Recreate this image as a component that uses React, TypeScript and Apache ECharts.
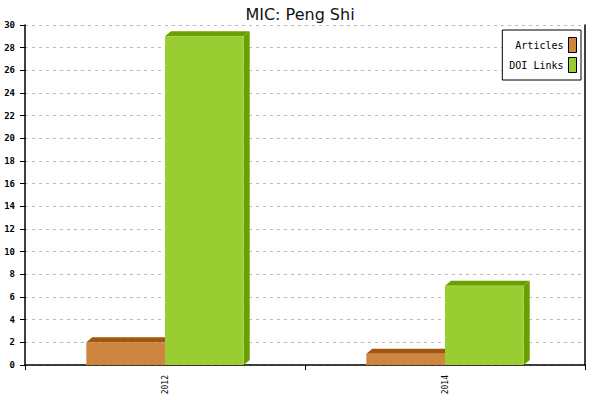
import React, { useEffect, useRef } from 'react';
import * as echarts from 'echarts';

const years = ['2012', '2014'];
const articles = [2, 1];
const doiLinks = [29, 7];
const yTicks = { min: 0, max: 30, interval: 2 };

const MONO = '"DejaVu Sans Mono", monospace';

// draws a flat bar with a top and a right-hand face for the 3D look
function make3dBar(offsetSide: number, front: string, dark: string) {
  return (params: any, api: any) => {
    const cat = api.value(0);
    const val = api.value(1);
    const top = api.coord([cat, val]);
    const base = api.coord([cat, 0]);
    const w = api.size([1, 0])[0] * 0.281;
    const x0 = top[0] + offsetSide * w;
    const x1 = x0 + w;
    const yT = top[1];
    const yB = base[1];
    const dx = 6;
    const dy = 5;
    return {
      type: 'group',
      children: [
        {
          type: 'polygon',
          shape: { points: [[x1, yT], [x1 + dx, yT - dy], [x1 + dx, yB - dy], [x1, yB]] },
          style: { fill: dark },
        },
        {
          type: 'polygon',
          shape: { points: [[x0, yT], [x0 + dx, yT - dy], [x1 + dx, yT - dy], [x1, yT]] },
          style: { fill: dark },
        },
        {
          type: 'rect',
          shape: { x: x0, y: yT, width: w, height: yB - yT },
          style: { fill: front },
        },
      ],
    };
  };
}

const App: React.FC = () => {
  const ref = useRef<HTMLDivElement>(null);

  useEffect(() => {
    if (!ref.current) return;
    const chart = echarts.init(ref.current, undefined, { renderer: 'svg' });

    chart.setOption({
      animation: false,
      backgroundColor: '#fff',
      title: {
        text: 'MIC: Peng Shi',
        left: 'center',
        top: 1,
        textStyle: { fontFamily: '"DejaVu Sans", sans-serif', fontSize: 16, fontWeight: 'normal', color: '#111' },
      },
      legend: {
        orient: 'vertical',
        right: 19,
        top: 30,
        align: 'right',
        backgroundColor: '#fff',
        borderColor: '#000',
        borderWidth: 1,
        padding: [7, 4, 7, 7],
        itemWidth: 8,
        itemHeight: 15,
        itemGap: 4,
        textStyle: { fontFamily: MONO, fontSize: 10, color: '#000', padding: [0, 0, 0, 0] },
        data: [
          { name: 'Articles', icon: 'rect', itemStyle: { color: '#CD853F', borderColor: '#000', borderWidth: 1 } },
          { name: 'DOI Links', icon: 'rect', itemStyle: { color: '#9ACD32', borderColor: '#000', borderWidth: 1 } },
        ],
      },
      grid: { left: 25, right: 15, top: 25, bottom: 35 },
      xAxis: {
        type: 'category',
        data: years,
        axisLine: { lineStyle: { color: '#000', width: 1.5 } },
        axisTick: { show: true, length: 5, lineStyle: { color: '#000' } },
        axisLabel: { rotate: 90, margin: 10, fontFamily: MONO, fontSize: 8, color: '#000' },
        splitLine: { show: false },
      },
      yAxis: [
        {
          type: 'value',
          position: 'left',
          ...yTicks,
          axisLine: { show: true, lineStyle: { color: '#000', width: 1.5 } },
          axisTick: { show: true, length: 5, lineStyle: { color: '#000' } },
          axisLabel: { margin: 10, fontFamily: MONO, fontSize: 9, fontWeight: 'bold', color: '#000' },
          splitLine: { show: true, lineStyle: { color: '#bbb', type: [3, 4] } },
        },
        {
          type: 'value',
          position: 'right',
          ...yTicks,
          axisLine: { show: true, lineStyle: { color: '#000', width: 1.5 } },
          axisTick: { show: false },
          axisLabel: { show: false },
          splitLine: { show: false },
        },
      ],
      series: [
        {
          name: 'Articles',
          type: 'custom',
          itemStyle: { color: '#CD853F' },
          renderItem: make3dBar(-1, '#CD853F', '#A0560F'),
          data: articles.map((v, i) => [i, v]),
        },
        {
          name: 'DOI Links',
          type: 'custom',
          itemStyle: { color: '#9ACD32' },
          renderItem: make3dBar(0, '#9ACD32', '#6A9F00'),
          data: doiLinks.map((v, i) => [i, v]),
        },
      ],
    });

    return () => chart.dispose();
  }, []);

  return <div ref={ref} style={{ position: 'absolute', left: 0, top: 0, width: 600, height: 400 }} />;
};

export default App;
